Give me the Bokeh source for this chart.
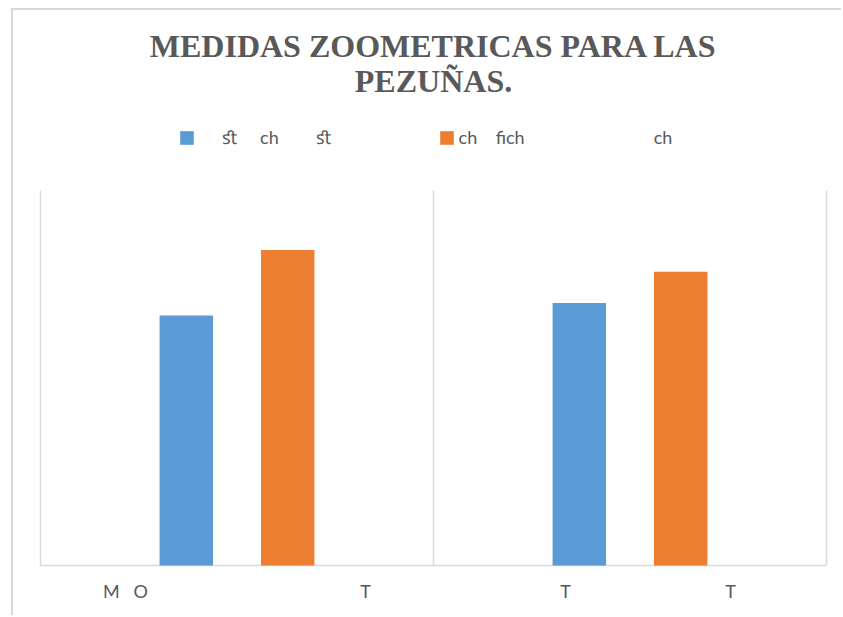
from bokeh.plotting import figure
from bokeh.models import ColumnDataSource, FixedTicker, Legend, LegendItem, Label
from bokeh.embed import file_html
from bokeh.resources import INLINE

NB = "\u00a0"

# Series names and category tick labels (as they come out of the source document)
series_names = [
    NB * 5 + "ﬆ" + NB * 5 + "ch" + NB * 8 + "ﬆ",
    "ch" + NB * 4 + "ﬁch" + NB * 28 + "ch",
]
tick_labels = ["M" + NB * 3 + "O", "T", "T", "T"]
title_lines = ["MEDIDAS ZOOMETRICAS PARA LAS", "PEZUÑAS."]

# Bar heights per group (two groups)
blue_values = [8.0, 8.4]
orange_values = [10.1, 9.4]
y_max = 12  # top of the plot area

BLUE = "#5B9BD5"
ORANGE = "#ED7D31"
GREY_TEXT = "#595959"
GRID = "#D9D9D9"

n_groups = len(blue_values)
src = ColumnDataSource(dict(
    xb=[i + 0.371 for i in range(n_groups)],
    xo=[i + 0.629 for i in range(n_groups)],
    blue=blue_values,
    orange=orange_values,
))

# The drawing area spans the whole canvas above the category labels, so that the
# title and legend can be placed inside it; the plot area itself is x 0..2, y 0..12.
PX_X = 393.0     # pixels per group
PX_Y = 31.25     # pixels per value unit
p = figure(
    width=830, height=607, title=None,
    x_range=(-27 / PX_X, n_groups + 17 / PX_X),
    y_range=(-2 / PX_Y, 555 / PX_Y),
    y_axis_location=None,
    output_backend="svg", toolbar_location=None,
    min_border_left=0, min_border_right=0, min_border_bottom=50, min_border_top=0,
)
p.margin = (8, 0, 0, 11)
p.styles = {"border-left": "2px solid #D9D9D9", "border-top": "2px solid #D9D9D9"}
p.xgrid.grid_line_color = None
p.ygrid.grid_line_color = None
p.outline_line_color = None

# Group separators and baseline of the plot area
p.segment(x0=list(range(n_groups + 1)), y0=0, x1=list(range(n_groups + 1)), y1=y_max,
          line_color=GRID, line_width=1.5)
p.segment(x0=0, y0=0, x1=n_groups, y1=0, line_color=GRID, line_width=1.5)

r_blue = p.vbar(x="xb", top="blue", width=0.136, source=src,
                fill_color=BLUE, line_color=None)
r_orange = p.vbar(x="xo", top="orange", width=0.136, source=src,
                  fill_color=ORANGE, line_color=None)

# Two-line centred title
cx = 27 + n_groups * PX_X / 2
for line, y_off in zip(title_lines, [522, 487]):
    p.add_layout(Label(
        x=cx, y=y_off, x_units="screen", y_units="screen",
        text=line, text_align="center", text_baseline="alphabetic",
        text_font="Liberation Serif", text_font_style="bold",
        text_font_size="32px", text_color=GREY_TEXT,
    ))

# Legend between the title and the plot area
legend = Legend(
    items=[LegendItem(label=series_names[0], renderers=[r_blue]),
           LegendItem(label=series_names[1], renderers=[r_orange])],
    orientation="horizontal", location=(165, 418),
    glyph_width=17, glyph_height=17, label_standoff=4, spacing=107,
    label_text_font="Lato", label_text_font_size="18px", label_text_color=GREY_TEXT,
    border_line_color=None, background_fill_alpha=0, margin=0, padding=0,
)
p.add_layout(legend, "center")

# Category labels
ax = p.xaxis[0]
tick_pos = [0.216, 0.827, 1.336, 1.756]
ax.ticker = FixedTicker(ticks=tick_pos)
ax.major_label_overrides = {t: lab for t, lab in zip(tick_pos, tick_labels)}
ax.axis_line_color = None
ax.major_tick_line_color = None
ax.minor_tick_line_color = None
ax.major_label_standoff = 6
ax.major_label_text_font = "Lato"
ax.major_label_text_font_size = "18px"
ax.major_label_text_color = GREY_TEXT

open("out.html", "w").write(file_html(p, INLINE))
